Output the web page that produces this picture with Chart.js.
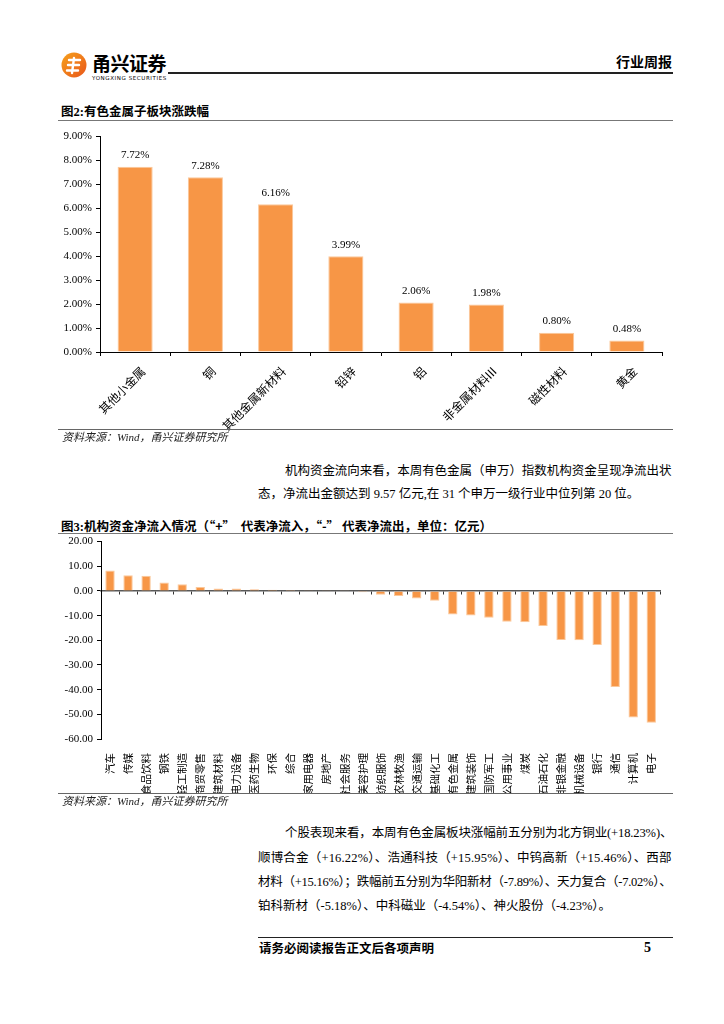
<!DOCTYPE html>
<html>
<head>
<meta charset="utf-8">
<script src="https://cdn.jsdelivr.net/npm/chart.js@4.4.0/dist/chart.umd.min.js"></script>
<style>
  body { margin: 0; width: 724px; height: 1024px; position: relative; background: #fff; color: #000;
         font-family: "Liberation Serif", "Noto Sans CJK SC", serif; overflow: hidden; }
  .abs { position: absolute; white-space: nowrap; }
  .rule { position: absolute; left: 58px; width: 615px; height: 0; }
  .fig-title { position: absolute; left: 61px; font-size: 12.5px; font-weight: bold; line-height: 16px; white-space: nowrap; }
  .cjk { font-family: "Noto Sans CJK SC", sans-serif; }
  .src { position: absolute; left: 62px; font-size: 11px; font-style: italic; color: #222; line-height: 13px; white-space: nowrap; }
  .line { position: absolute; font-size: 12.5px; line-height: 18px; white-space: nowrap; }
  canvas { position: absolute; }
</style>
</head>
<body>

<!-- 页眉 -->
<svg class="abs" style="left:61px;top:52px" width="28" height="28" viewBox="0 0 28 28">
  <defs>
    <linearGradient id="lg" x1="0" y1="0" x2="1" y2="1">
      <stop offset="0" stop-color="#f6a21c"/>
      <stop offset="1" stop-color="#e9561b"/>
    </linearGradient>
  </defs>
  <circle cx="13" cy="13" r="12.5" fill="url(#lg)"/>
  <path d="M8 8 H19 M7 13 H18 M6 18.5 H17 M13 6 L11 21" stroke="#fff" stroke-width="2.4" fill="none" stroke-linecap="round"/>
</svg>
<div class="abs" style="left:92px;top:52px;font-family:'Noto Sans CJK SC';font-weight:bold;font-size:19px;line-height:22px;letter-spacing:-0.5px;">甬兴证券</div>
<div class="abs" style="left:92px;top:75px;font-family:'DejaVu Sans';font-size:5.5px;line-height:7px;letter-spacing:0.6px;">YONGXING SECURITIES</div>
<div class="rule" style="left:168px;width:505px;top:72px;border-top:2px solid #222;"></div>
<div class="abs" style="right:52px;top:52px;font-family:'Noto Sans CJK SC';font-weight:bold;font-size:14px;line-height:18px;">行业周报</div>

<!-- 图2 -->
<div class="fig-title" style="top:104px;">图2:有色金属子板块涨跌幅</div>
<div class="rule" style="top:120px;border-top:1px solid #777;"></div>
<canvas id="subSectorChart" style="left:50px;top:125px;"></canvas>
<div class="rule" style="top:429px;border-top:1.5px solid #666;"></div>
<div class="src" style="top:431px;">资料来源：Wind，甬兴证券研究所</div>

<div class="line fit" data-w="387" style="left:285px;top:462px;">机构资金流向来看，本周有色金属（申万）指数机构资金呈现净流出状</div>
<div class="line" style="left:258px;top:485px;">态，净流出金额达到 9.57 亿元,在 31 个申万一级行业中位列第 20 位。</div>

<!-- 图3 -->
<div class="fig-title" style="top:518px;">图3:机构资金净流入情况<span class="cjk">（“+”&nbsp;&nbsp;代表净流入，“-”&nbsp;代表净流出，单位：亿元）</span></div>
<div class="rule" style="top:533px;border-top:1px solid #777;"></div>
<canvas id="fundFlowChart" style="left:50px;top:531px;"></canvas>
<div class="rule" style="top:793px;border-top:1.5px solid #666;"></div>
<div class="src" style="top:795px;">资料来源：Wind，甬兴证券研究所</div>

<div class="line fit" data-w="387" style="left:285px;top:824px;">个股表现来看，本周有色金属板块涨幅前五分别为北方铜业(+18.23%)、</div>
<div class="line fit" data-w="414" style="left:258px;top:849px;">顺博合金（+16.22%）、浩通科技（+15.95%）、中钨高新（+15.46%）、西部</div>
<div class="line fit" data-w="414" style="left:258px;top:873px;">材料（+15.16%）；跌幅前五分别为华阳新材（-7.89%）、天力复合（-7.02%）、</div>
<div class="line" style="left:258px;top:897px;">铂科新材（-5.18%）、中科磁业（-4.54%）、神火股份（-4.23%）。</div>

<!-- 页脚 -->
<div class="rule" style="left:258px;width:415px;top:937px;border-top:1px solid #222;"></div>
<div class="abs" style="left:259px;top:939px;font-family:'Noto Sans CJK SC';font-weight:bold;font-size:12.5px;line-height:17px;">请务必阅读报告正文后各项声明</div>
<div class="abs" style="left:644px;top:939px;font-weight:bold;font-size:14px;line-height:17px;">5</div>

<script>
// 图2：有色金属子板块涨跌幅（%）
const subSectors = ['其他小金属', '铜', '其他金属新材料', '铅锌', '铝', '非金属材料III', '磁性材料', '黄金'];
const subSectorChange = [7.72, 7.28, 6.16, 3.99, 2.06, 1.98, 0.80, 0.48];

// 图3：申万一级行业机构资金净流入（亿元）
const industries = ['汽车', '传媒', '食品饮料', '钢铁', '轻工制造', '商贸零售', '建筑材料', '电力设备',
  '医药生物', '环保', '综合', '家用电器', '房地产', '社会服务', '美容护理', '纺织服饰', '农林牧渔',
  '交通运输', '基础化工', '有色金属', '建筑装饰', '国防军工', '公用事业', '煤炭', '石油石化',
  '非银金融', '机械设备', '银行', '通信', '计算机', '电子'];
const netInflow = [8.3, 6.4, 6.2, 3.4, 2.7, 1.6, 1.0, 1.0,
  0.7, 0.5, 0.4, 0.3, 0.3, 0.1, -0.5, -1.5, -2.0,
  -3.1, -4.0, -9.57, -9.9, -10.9, -12.5, -12.7, -14.2,
  -19.9, -20.0, -21.9, -38.9, -51.3, -53.4];

const BAR_COLOR = '#f79646';
const BAR_EDGE = '#fbc89a';
const CJK = '"Noto Sans CJK SC", sans-serif';
const SERIF = '"Liberation Serif", serif';

// 正文整行两端对齐：按目标宽度调字距
function fitLines() {
  document.querySelectorAll('.fit').forEach(el => {
    const target = +el.dataset.w;
    const n = el.textContent.length;
    const extra = (target - el.scrollWidth) / (n - 1);
    el.style.letterSpacing = extra.toFixed(3) + 'px';
  });
}

// 柱顶数值标签
const valueLabelPlugin = {
  id: 'valueLabels',
  afterDatasetsDraw(chart) {
    const ctx = chart.ctx;
    const meta = chart.getDatasetMeta(0);
    ctx.save();
    ctx.font = '11px ' + SERIF;
    ctx.fillStyle = '#000';
    ctx.textAlign = 'center';
    ctx.textBaseline = 'bottom';
    meta.data.forEach((bar, i) => {
      ctx.fillText(subSectorChange[i].toFixed(2) + '%', bar.x, bar.y - 6);
    });
    ctx.restore();
  }
};

function drawSubSectorChart() {
  const canvas = document.getElementById('subSectorChart');
  canvas.width = 620;
  canvas.height = 320;
  canvas.style.width = '620px';
  canvas.style.height = '320px';
  new Chart(canvas.getContext('2d'), {
    type: 'bar',
    data: {
      labels: subSectors,
      datasets: [{
        data: subSectorChange,
        backgroundColor: BAR_COLOR,
        borderColor: BAR_EDGE,
        borderWidth: 1,
        barPercentage: 0.5,
        categoryPercentage: 1
      }]
    },
    plugins: [valueLabelPlugin],
    options: {
      responsive: false,
      animation: false,
      layout: { padding: { top: 11, right: 8, left: 0, bottom: 0 } },
      plugins: { legend: { display: false }, tooltip: { enabled: false } },
      scales: {
        x: {
          offset: true,
          grid: { drawOnChartArea: false, drawTicks: true, tickLength: 4, offset: true, color: '#000' },
          border: { color: '#000', width: 1 },
          ticks: { minRotation: 45, maxRotation: 45, autoSkip: false, padding: 8, labelOffset: 8,
                   color: '#000', font: { family: CJK, size: 12 } },
          afterFit(scale) { scale.height = 93; }
        },
        y: {
          min: 0,
          max: 9,
          ticks: { stepSize: 1, padding: 4, color: '#000', font: { family: SERIF, size: 11 },
                   callback: v => v.toFixed(2) + '%' },
          grid: { drawOnChartArea: false, drawTicks: true, tickLength: 4, color: '#000' },
          border: { color: '#000', width: 1 },
          afterFit(scale) { scale.width = 50; }
        }
      }
    }
  });
}

function drawFundFlowChart() {
  const canvas = document.getElementById('fundFlowChart');
  canvas.width = 620;
  canvas.height = 263;
  canvas.style.width = '620px';
  canvas.style.height = '263px';
  new Chart(canvas.getContext('2d'), {
    type: 'bar',
    data: {
      labels: industries,
      datasets: [{
        data: netInflow,
        xAxisID: 'x',
        backgroundColor: BAR_COLOR,
        borderColor: BAR_EDGE,
        borderWidth: 1,
        barPercentage: 0.52,
        categoryPercentage: 1
      }]
    },
    options: {
      responsive: false,
      animation: false,
      layout: { padding: { top: 0, right: 9, left: 0, bottom: 0 } },
      plugins: { legend: { display: false }, tooltip: { enabled: false } },
      scales: {
        x: {
          offset: true,
          grid: { display: false },
          border: { display: false },
          ticks: { minRotation: 90, maxRotation: 90, autoSkip: false, padding: 6, color: '#000', font: { family: CJK, size: 10.5 } },
          afterFit(scale) { scale.height = 55; }
        },
        // 零轴及其刻度
        x2: {
          type: 'category',
          position: { y: 0 },
          offset: true,
          ticks: { display: false },
          grid: { drawOnChartArea: false, drawTicks: true, tickLength: 3, offset: true, color: '#333' },
          border: { color: '#595959', width: 1.5 },
          afterFit(scale) { scale.height = 0; }
        },
        y: {
          min: -60,
          max: 20,
          ticks: { stepSize: 10, padding: 4, color: '#000', font: { family: SERIF, size: 11 },
                   callback: v => v.toFixed(2) },
          grid: { drawOnChartArea: false, drawTicks: true, tickLength: 4, color: '#000' },
          border: { color: '#000', width: 1 },
          afterFit(scale) { scale.width = 51; }
        }
      }
    }
  });
}

window.onload = function () {
  fitLines();
  drawSubSectorChart();
  drawFundFlowChart();
};
</script>
</body>
</html>
